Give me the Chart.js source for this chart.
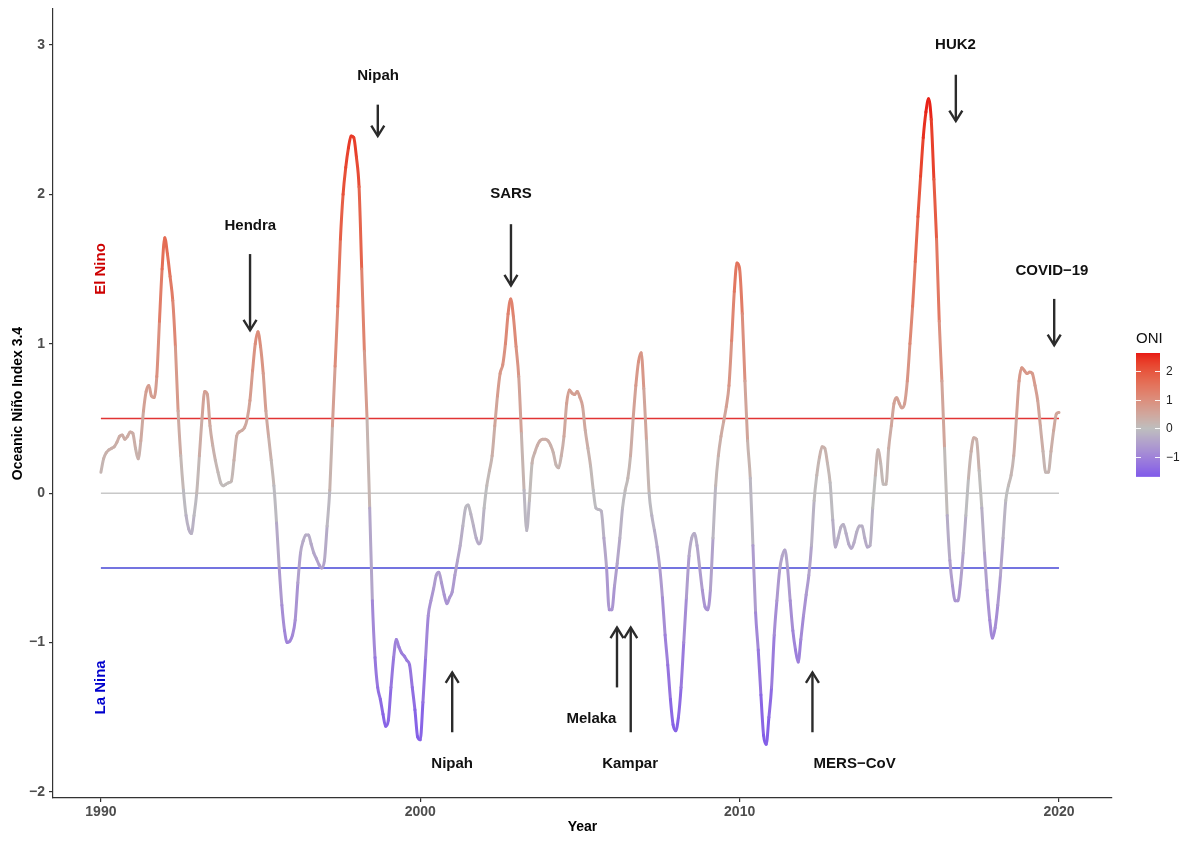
<!DOCTYPE html>
<html><head><meta charset="utf-8">
<script src="https://cdn.jsdelivr.net/npm/chart.js@4.4.1/dist/chart.umd.min.js"></script>
<style>html,body{margin:0;padding:0;background:#fff;}#wrap{width:1188px;height:841px;position:relative;}</style>
</head><body><div id="wrap"><canvas id="c" width="1188" height="841"></canvas></div>
<script>
// ---- DATA (monthly Oceanic Niño Index) ----
const startYear = 1990;
const oni1990s = [
  0.14, 0.23, 0.27, 0.29, 0.30, 0.31, 0.34, 0.38, 0.39, 0.36, 0.38, 0.41,
  0.40, 0.30, 0.23, 0.35, 0.55, 0.68, 0.72, 0.65, 0.64, 0.78, 1.15, 1.50,
  1.71, 1.60, 1.45, 1.29, 0.98, 0.55, 0.25, 0.02, -0.15, -0.24, -0.27, -0.15,
  0.00, 0.25, 0.50, 0.68, 0.66, 0.45, 0.32, 0.22, 0.14, 0.07, 0.05, 0.06,
  0.07, 0.08, 0.22, 0.38, 0.41, 0.42, 0.44, 0.50, 0.62, 0.82, 1.00, 1.08,
  0.98, 0.80, 0.55, 0.38, 0.22, 0.05, -0.20, -0.50, -0.75, -0.92, -1.00, -0.99,
  -0.95, -0.85, -0.60, -0.40, -0.32, -0.28, -0.28, -0.34, -0.40, -0.44, -0.48, -0.50,
  -0.45, -0.22, 0.02, 0.45, 0.85, 1.25, 1.70, 2.00, 2.18, 2.31, 2.39, 2.38,
  2.25, 2.05, 1.50, 0.95, 0.50, -0.10, -0.72, -1.10, -1.30, -1.38, -1.48, -1.56,
  -1.52, -1.30, -1.10, -0.98, -1.03, -1.07, -1.09, -1.12, -1.15, -1.30, -1.45, -1.63
];
const oni2000s = [
  -1.65, -1.40, -1.10, -0.82, -0.72, -0.64, -0.55, -0.53, -0.60, -0.68, -0.74, -0.70,
  -0.66, -0.55, -0.45, -0.35, -0.22, -0.10, -0.08, -0.14, -0.22, -0.30, -0.34, -0.30,
  -0.10, 0.05, 0.15, 0.25, 0.45, 0.65, 0.80, 0.86, 1.00, 1.20, 1.30, 1.18,
  0.98, 0.78, 0.40, 0.02, -0.25, -0.05, 0.20, 0.27, 0.32, 0.35, 0.36, 0.36,
  0.35, 0.32, 0.27, 0.19, 0.17, 0.25, 0.38, 0.60, 0.69, 0.67, 0.66, 0.68,
  0.64, 0.58, 0.42, 0.30, 0.18, 0.02, -0.10, -0.11, -0.12, -0.30, -0.50, -0.78,
  -0.78, -0.62, -0.47, -0.30, -0.10, 0.02, 0.10, 0.25, 0.50, 0.72, 0.88, 0.94,
  0.70, 0.35, 0.00, -0.15, -0.25, -0.36, -0.50, -0.70, -0.95, -1.15, -1.38, -1.55,
  -1.59, -1.50, -1.30, -1.00, -0.70, -0.42, -0.30, -0.27, -0.35, -0.50, -0.65, -0.76,
  -0.78, -0.65, -0.30, 0.05, 0.25, 0.38, 0.48, 0.58, 0.72, 1.02, 1.35, 1.54
];
const oni2010s = [
  1.50, 1.20, 0.75, 0.35, 0.10, -0.35, -0.80, -1.05, -1.35, -1.62, -1.68, -1.50,
  -1.30, -0.95, -0.72, -0.52, -0.42, -0.38, -0.50, -0.72, -0.92, -1.05, -1.13, -0.98,
  -0.82, -0.68, -0.55, -0.35, -0.05, 0.12, 0.24, 0.31, 0.30, 0.20, 0.07, -0.18,
  -0.36, -0.30, -0.23, -0.21, -0.27, -0.34, -0.37, -0.33, -0.26, -0.22, -0.22, -0.30,
  -0.36, -0.35, -0.10, 0.12, 0.29, 0.20, 0.06, 0.06, 0.30, 0.45, 0.60, 0.64,
  0.60, 0.57, 0.60, 0.75, 1.00, 1.25, 1.55, 1.85, 2.12, 2.38, 2.55, 2.64,
  2.50, 2.10, 1.70, 1.15, 0.75, 0.30, -0.15, -0.45, -0.62, -0.72, -0.72, -0.60,
  -0.40, -0.15, 0.10, 0.28, 0.37, 0.36, 0.15, -0.10, -0.40, -0.65, -0.85, -0.97,
  -0.90, -0.75, -0.55, -0.30, -0.05, 0.05, 0.12, 0.25, 0.50, 0.75, 0.84, 0.82,
  0.80, 0.81, 0.80, 0.72, 0.62, 0.45, 0.28, 0.14, 0.14, 0.28, 0.42, 0.53
];
const oni2020 = [0.54];

const xTicks = [1990, 2000, 2010, 2020];
const yTicks = [-2, -1, 0, 1, 2, 3];
const legendTicks = [-1, 0, 1, 2];
const thresholdValues = [0.5, 0, -0.5];
const thresholdSpan = [1990, 2020];

const eventNames  = ['Hendra', 'Nipah', 'SARS', 'HUK2', 'COVID\u221219', 'Nipah', 'Melaka', 'Kampar', 'MERS\u2212CoV'];
const eventLabelX = [1994.68, 1998.68, 2002.84, 2016.76, 2019.78, 2001.0, 2005.36, 2006.57, 2013.6];
const eventLabelY = [1.79, 2.79, 2.00, 3.00, 1.49, -1.81, -1.51, -1.81, -1.81];
const arrowX      = [1994.67, 1998.67, 2002.84, 2016.77, 2019.85, 2001.0, 2006.16, 2006.59, 2012.28];
const arrowFrom   = [1.60, 2.60, 1.80, 2.80, 1.30, -1.60, -1.30, -1.60, -1.60];
const arrowTo     = [1.09, 2.39, 1.39, 2.49, 0.99, -1.20, -0.90, -0.90, -1.20];

const phaseNames = ['El Nino', 'La Nina'];
const phaseX = [1990, 1990];
const phaseY = [1.50, -1.30];

// ---- build series ----
const oniValues = [...oni1990s, ...oni2000s, ...oni2010s, ...oni2020];
const oniPoints = oniValues.map((v, i) => ({ x: startYear + i / 12, y: v }));
const oniMin = Math.min(...oniValues), oniMax = Math.max(...oniValues);
const maxAbs = Math.max(Math.abs(oniMin), Math.abs(oniMax));

// ---- colour scale (diverging, Lab interpolation, mid at 0) ----
function s2l(c){ c/=255; return c<=0.04045 ? c/12.92 : Math.pow((c+0.055)/1.055, 2.4); }
function l2s(c){ c = c<=0.0031308 ? 12.92*c : 1.055*Math.pow(c,1/2.4)-0.055; return Math.round(Math.max(0,Math.min(1,c))*255); }
function rgb2lab(rgb){
  const r=s2l(rgb[0]), g=s2l(rgb[1]), b=s2l(rgb[2]);
  const X=(0.4124*r+0.3576*g+0.1805*b)/0.95047, Y=0.2126*r+0.7152*g+0.0722*b, Z=(0.0193*r+0.1192*g+0.9505*b)/1.08883;
  const f=t=> t>0.008856 ? Math.cbrt(t) : 7.787*t+16/116;
  const fx=f(X), fy=f(Y), fz=f(Z);
  return [116*fy-16, 500*(fx-fy), 200*(fy-fz)];
}
function lab2rgb(lab){
  const fy=(lab[0]+16)/116, fx=fy+lab[1]/500, fz=fy-lab[2]/200;
  const fi=t=> t*t*t>0.008856 ? t*t*t : (t-16/116)/7.787;
  const X=fi(fx)*0.95047, Y=fi(fy), Z=fi(fz)*1.08883;
  const r= 3.2406*X-1.5372*Y-0.4986*Z, g=-0.9689*X+1.8758*Y+0.0415*Z, b=0.0557*X-0.2040*Y+1.0570*Z;
  return [l2s(r), l2s(g), l2s(b)];
}
const LAB_LOW = rgb2lab([10,20,255]), LAB_MID = rgb2lab([190,190,190]), LAB_HIGH = rgb2lab([232,24,20]);
function colorFor(v){
  const t = 0.5 + v/(2*maxAbs);
  let a, b, s;
  if (t >= 0.5) { a = LAB_MID; b = LAB_HIGH; s = (t-0.5)/0.5; } else { a = LAB_MID; b = LAB_LOW; s = (0.5-t)/0.5; }
  s = Math.max(0, Math.min(1, s));
  const c = lab2rgb([a[0]+(b[0]-a[0])*s, a[1]+(b[1]-a[1])*s, a[2]+(b[2]-a[2])*s]);
  return 'rgb(' + c[0] + ',' + c[1] + ',' + c[2] + ')';
}

const FONT = '"Liberation Sans", Arial, Helvetica, sans-serif';
Chart.defaults.font.family = FONT;

const thresholdColors = ['rgba(222,30,30,0.9)', 'rgba(200,200,200,1)', 'rgba(50,50,210,0.9)'];

const annotPlugin = {
  id: 'annot',
  afterDatasetsDraw(chart) {
    const { ctx, scales: { x, y } } = chart;
    ctx.save();
    ctx.strokeStyle = '#2b2b2b';
    ctx.lineWidth = 2.4;
    ctx.lineJoin = 'miter';
    for (let i = 0; i < arrowX.length; i++) {
      const px = x.getPixelForValue(arrowX[i]);
      const y0 = y.getPixelForValue(arrowFrom[i]);
      const y1 = y.getPixelForValue(arrowTo[i]);
      const dir = y1 > y0 ? 1 : -1;
      ctx.beginPath(); ctx.moveTo(px, y0); ctx.lineTo(px, y1); ctx.stroke();
      ctx.beginPath();
      ctx.moveTo(px - 6.5, y1 - dir * 10.5);
      ctx.lineTo(px, y1);
      ctx.lineTo(px + 6.5, y1 - dir * 10.5);
      ctx.stroke();
    }
    ctx.fillStyle = '#111';
    ctx.font = 'bold 15px ' + FONT;
    ctx.textAlign = 'center';
    ctx.textBaseline = 'middle';
    for (let i = 0; i < eventNames.length; i++) {
      ctx.fillText(eventNames[i], x.getPixelForValue(eventLabelX[i]), y.getPixelForValue(eventLabelY[i]));
    }
    const phaseColors = ['#CD0000', '#0000CD'];
    for (let i = 0; i < phaseNames.length; i++) {
      ctx.save();
      ctx.translate(x.getPixelForValue(phaseX[i]), y.getPixelForValue(phaseY[i]));
      ctx.rotate(-Math.PI / 2);
      ctx.fillStyle = phaseColors[i];
      ctx.font = 'bold 15px ' + FONT;
      ctx.fillText(phaseNames[i], 0, 0);
      ctx.restore();
    }
    ctx.restore();
  },
  afterDraw(chart) {
    const { ctx } = chart;
    const barLeft = 1136, barW = 24, barTop = 353, barBottom = 476.5;
    const vToY = v => barTop + (oniMax - v) / (oniMax - oniMin) * (barBottom - barTop);
    ctx.save();
    for (let py = barTop; py < barBottom; py += 1) {
      const v = oniMax - (py + 0.5 - barTop) / (barBottom - barTop) * (oniMax - oniMin);
      ctx.fillStyle = colorFor(v);
      ctx.fillRect(barLeft, py, barW, Math.min(1, barBottom - py) + 0.3);
    }
    ctx.strokeStyle = 'rgba(255,255,255,0.9)';
    ctx.lineWidth = 1;
    ctx.fillStyle = '#222';
    ctx.font = '12px ' + FONT;
    ctx.textAlign = 'left';
    ctx.textBaseline = 'middle';
    legendTicks.forEach(t => {
      const ty = Math.round(vToY(t)) + 0.5;
      ctx.beginPath(); ctx.moveTo(barLeft, ty); ctx.lineTo(barLeft + 5, ty); ctx.stroke();
      ctx.beginPath(); ctx.moveTo(barLeft + barW - 5, ty); ctx.lineTo(barLeft + barW, ty); ctx.stroke();
      ctx.fillText(t < 0 ? '\u2212' + Math.abs(t) : String(t), barLeft + barW + 6, ty);
    });
    ctx.fillStyle = '#111';
    ctx.font = '15px ' + FONT;
    ctx.textBaseline = 'middle';
    ctx.fillText('ONI', barLeft, 339);
    ctx.restore();
  }
};

const datasets = [{
  data: oniPoints,
  order: 0,
  borderWidth: 3,
  pointRadius: 0,
  cubicInterpolationMode: 'monotone',
  borderCapStyle: 'round',
  borderJoinStyle: 'round',
  borderColor: '#bebebe',
  segment: { borderColor: c => colorFor((c.p0.parsed.y + c.p1.parsed.y) / 2) }
}];
thresholdValues.forEach((v, i) => {
  datasets.push({
    data: thresholdSpan.map(xv => ({ x: xv, y: v })),
    order: 1,
    borderWidth: 1.5,
    pointRadius: 0,
    borderColor: thresholdColors[i]
  });
});

const minus = v => (v < 0 ? '\u2212' + Math.abs(v) : String(v));

new Chart(document.getElementById('c'), {
  type: 'line',
  data: { datasets },
  plugins: [annotPlugin],
  options: {
    responsive: false,
    animation: false,
    devicePixelRatio: 1,
    layout: { padding: { left: 0, top: 9, right: 76, bottom: 0 } },
    plugins: { legend: { display: false }, tooltip: { enabled: false } },
    scales: {
      x: {
        type: 'linear', min: 1988.5, max: 2021.66,
        afterBuildTicks: s => { s.ticks = xTicks.map(v => ({ value: v })); },
        afterFit: s => { s.height = 43; s.paddingLeft = 0; s.paddingRight = 0; },
        ticks: { font: { weight: 'bold', size: 14 }, color: '#4d4d4d', padding: 2, maxRotation: 0, autoSkip: false, callback: v => String(v) },
        grid: { drawOnChartArea: false, drawTicks: true, tickLength: 4, color: '#333', lineWidth: 1.2 },
        border: { display: true, color: '#333', width: 1.2 },
        title: { display: true, text: 'Year', color: '#000', font: { weight: 'bold', size: 14 }, padding: { top: 0, bottom: 5 } }
      },
      y: {
        type: 'linear', min: -2.04, max: 3.24,
        afterBuildTicks: s => { s.ticks = yTicks.map(v => ({ value: v })); },
        afterFit: s => { s.width = 53; s.paddingTop = 0; s.paddingBottom = 0; },
        ticks: { font: { weight: 'bold', size: 14 }, color: '#4d4d4d', padding: 4, autoSkip: false, callback: v => minus(v) },
        grid: { drawOnChartArea: false, drawTicks: true, tickLength: 4, color: '#333', lineWidth: 1.2 },
        border: { display: true, color: '#333', width: 1.2 },
        title: { display: true, text: 'Oceanic Niño Index 3.4', color: '#000', font: { weight: 'bold', size: 14 }, padding: { top: 10, bottom: 0 } }
      }
    }
  }
});
</script></body></html>
